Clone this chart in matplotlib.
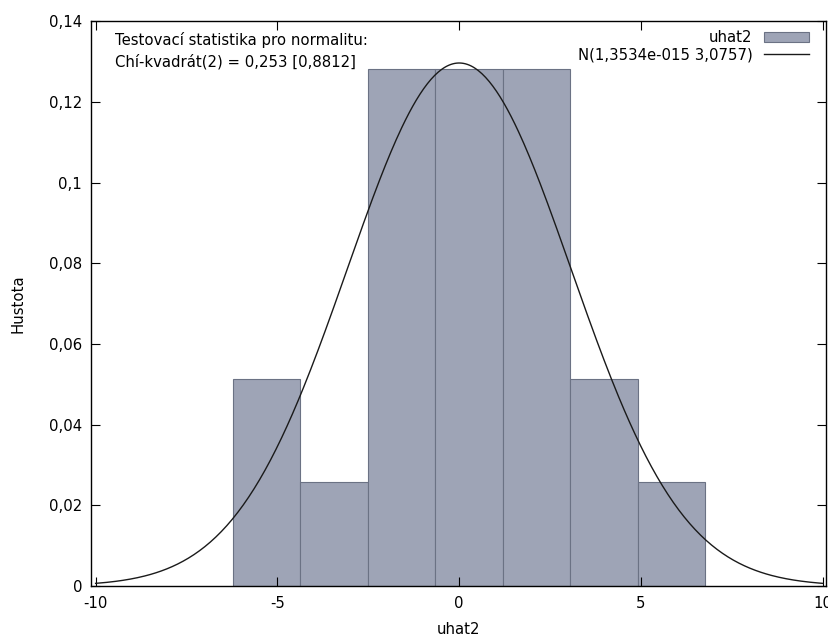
import numpy as np
import matplotlib
matplotlib.use("Agg")
import matplotlib.pyplot as plt
from matplotlib.patches import Patch
from matplotlib.lines import Line2D

# histogram of uhat2 (density)
bin_left = [-6.23, -4.374, -2.518, -0.662, 1.194, 3.05, 4.906]
bin_width = 1.856
density = [0.0513, 0.0257, 0.1283, 0.1283, 0.1283, 0.0513, 0.0257]

# fitted normal from the legend
mu = 1.3534e-15
sigma = 3.0757

x_ticks = [-10, -5, 0, 5, 10]
x_labels = ['-10', '-5', '0', '5', '10']
y_ticks = [0, 0.02, 0.04, 0.06, 0.08, 0.1, 0.12, 0.14]
y_labels = ['0', '0,02', '0,04', '0,06', '0,08', '0,1', '0,12', '0,14']

plt.rcParams['font.family'] = ['DejaVu Sans']
fs = 10.7

fig = plt.figure(figsize=(8.29, 6.36), dpi=100)
ax = fig.add_axes([0.1092, 0.0786, 0.8872, 0.8876])

ax.bar(bin_left, density, width=bin_width, align='edge',
       color='#9ea4b6', edgecolor='#6b7284', linewidth=0.8, zorder=1)

xs = np.linspace(-10, 10, 400)
pdf = np.exp(-0.5 * ((xs - mu) / sigma) ** 2) / (sigma * np.sqrt(2 * np.pi))
ax.plot(xs, pdf, color='#1a1a1a', linewidth=1.0, zorder=2)

ax.set_xlim(-10.14, 10.09)
ax.set_ylim(0, 0.14)
ax.set_xticks(x_ticks)
ax.set_xticklabels(x_labels)
ax.set_yticks(y_ticks)
ax.set_yticklabels(y_labels)
ax.tick_params(axis='both', direction='in', length=6.5, width=0.8,
               top=True, right=True, labelsize=fs)
ax.tick_params(axis='x', pad=7)
ax.tick_params(axis='y', pad=6)
for s in ax.spines.values():
    s.set_linewidth(1.0)
    s.set_color('black')

ax.set_xlabel('uhat2', fontsize=fs)
ax.xaxis.set_label_coords(0.5, -0.063)
ax.set_ylabel('Hustota', fontsize=fs)
ax.yaxis.set_label_coords(-0.088, 0.5)

ax.text(0.0333, 0.967, 'Testovací statistika pro normalitu:', transform=ax.transAxes,
        ha='left', va='center', fontsize=fs)
ax.text(0.0333, 0.928, 'Chí-kvadrát(2) = 0,253 [0,8812]', transform=ax.transAxes,
        ha='left', va='center', fontsize=fs)

handles = [Patch(facecolor='#9ea4b6', edgecolor='#6b7284', linewidth=0.8),
           Line2D([0], [0], color='#1a1a1a', linewidth=1.0)]
ax.legend(handles, ['uhat2', 'N(1,3534e-015 3,0757)'], loc='upper right',
          bbox_to_anchor=(0.981, 0.99), borderaxespad=0, borderpad=0.2,
          frameon=False, markerfirst=False, fontsize=fs,
          handlelength=3.0, handleheight=0.7, labelspacing=0.15, handletextpad=0.8)

fig.savefig('out.png', dpi=100)
